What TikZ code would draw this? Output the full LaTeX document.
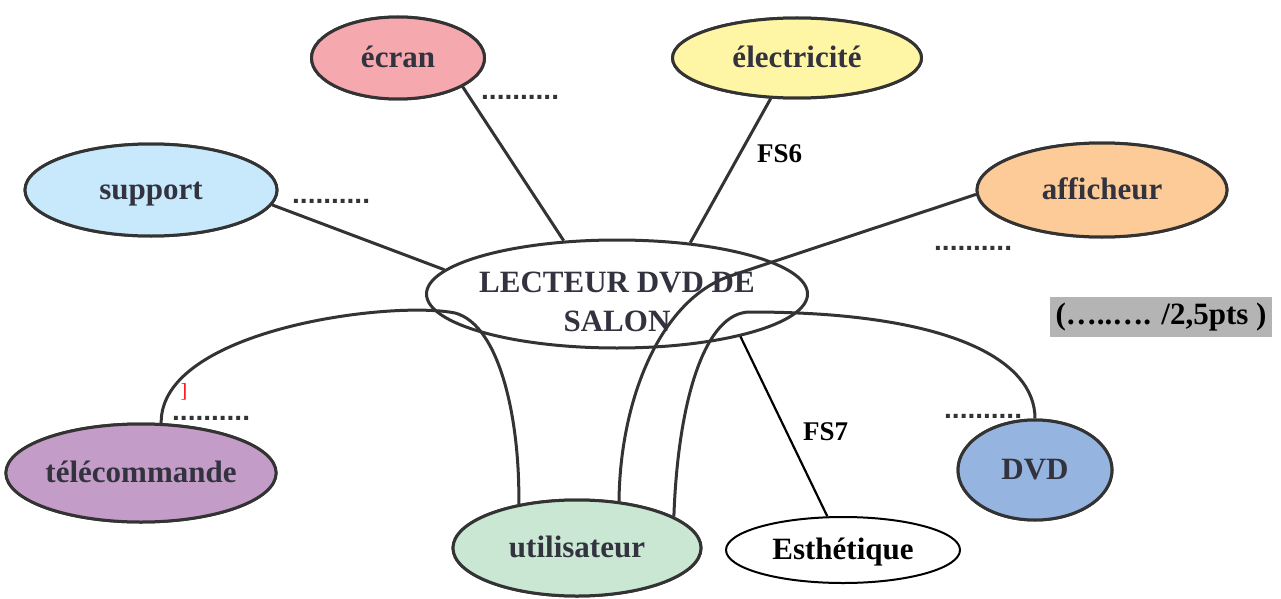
\documentclass[tikz,border=0pt]{standalone}
\usepackage{fontspec}
\setmainfont{Liberation Serif}
\newfontfamily\dotfont{Liberation Sans}
\usetikzlibrary{shapes.geometric}
\definecolor{lineg}{HTML}{333333}
\definecolor{txtg}{HTML}{33333F}
\definecolor{cecran}{HTML}{F5A8AE}
\definecolor{celec}{HTML}{FFF6A5}
\definecolor{csupport}{HTML}{C8E9FB}
\definecolor{caff}{HTML}{FDCB98}
\definecolor{ctele}{HTML}{C49CC8}
\definecolor{cdvd}{HTML}{96B4E0}
\definecolor{cutil}{HTML}{C9E7D3}
\definecolor{boxg}{HTML}{B4B4B4}
\tikzset{
  oval/.style={ellipse, draw=lineg, line width=3pt, inner sep=0pt, text=txtg,
    font=\bfseries\fontsize{31}{36}\selectfont, text height=19pt, text depth=0pt},
  link/.style={draw=lineg, line width=3pt},
  dotlabel/.style={text=lineg, font=\dotfont\bfseries\fontsize{28}{32}\selectfont, anchor=base west,
    inner sep=0pt, text height=6pt, text depth=0pt},
  fslabel/.style={text=black, font=\bfseries\fontsize{27}{32}\selectfont, anchor=base west, inner sep=0pt},
}
\begin{document}
\begin{tikzpicture}[x=1pt,y=-1pt]
\useasboundingbox (0,0) rectangle (1281,599);
% main ellipse and anchored ovals
\node[ellipse, draw=lineg, line width=3pt, minimum width=381pt, minimum height=108pt, inner sep=0pt] (main) at (617,294) {};
\path (398,58) node[oval, minimum width=173pt, minimum height=82pt] (ecran) {}
      (797,58) node[oval, minimum width=249pt, minimum height=80pt] (elec) {}
      (151,190) node[oval, minimum width=252pt, minimum height=92pt] (support) {}
      (1102,190) node[oval, minimum width=250pt, minimum height=94pt] (aff) {}
      (141,473) node[oval, minimum width=270pt, minimum height=98pt] (tele) {}
      (1035,470) node[oval, minimum width=154pt, minimum height=100pt] (dvd) {}
      (577,548) node[oval, minimum width=248pt, minimum height=96pt] (util) {}
      (843,550) node[ellipse, line width=2pt, minimum width=234pt, minimum height=66pt, inner sep=0pt] (esth) {};
% connectors
\draw[link] (ecran.-24) -- (main.135);
\draw[link] (elec.-123) -- (main.35);
\draw[link] (support.-7) -- (main.172);
\draw[link] (aff.182) -- (730,276) .. controls (660,300) and (620,400) .. (util.48);
\draw[link] (tele.68) .. controls (160,330) and (390,300) .. (455,313) .. controls (500,325) and (520,420) .. (util.143);
\draw[link] (util.18) .. controls (678,400) and (705,312) .. (750,312) .. controls (950,312) and (1035,360) .. (dvd.north);
\draw[black, line width=2.2pt] (main.-19.5) -- (esth.115);
% filled ovals drawn over the connector ends
\node[oval, fill=cecran, minimum width=173pt, minimum height=82pt] (ecranf) at (ecran) {écran};
\node[oval, fill=celec, minimum width=249pt, minimum height=80pt] (elecf) at (elec) {électricité};
\node[oval, fill=csupport, minimum width=252pt, minimum height=92pt] (supportf) at (support) {support};
\node[oval, fill=caff, minimum width=250pt, minimum height=94pt] (afff) at (aff) {afficheur};
\node[oval, fill=ctele, minimum width=270pt, minimum height=98pt] (telef) at (tele) {télécommande};
\node[oval, fill=cdvd, minimum width=154pt, minimum height=100pt] (dvdf) at (dvd) {DVD};
\node[oval, fill=cutil, minimum width=248pt, minimum height=96pt] (utilf) at (util) {utilisateur};
\node[ellipse, draw=black, line width=2pt, fill=white, minimum width=234pt, minimum height=66pt, inner sep=0pt,
  text=black, font=\bfseries\fontsize{31}{36}\selectfont, text height=19pt, text depth=0pt] (esthf) at (esth) {Esthétique};
% main text
\node[text=txtg, font=\bfseries\fontsize{31}{39}\selectfont, align=center, inner sep=0pt] (maintext) at (617,302) {LECTEUR DVD DE\\SALON};
% labels
\node[fslabel] (fs6) at (757,162) {FS6};
\node[fslabel] (fs7) at (803,440) {FS7};
\node[dotlabel] (d1) at (481,100) {..........};
\node[dotlabel] (d2) at (292,203) {..........};
\node[dotlabel] (d3) at (934,250) {..........};
\node[dotlabel] (d4) at (172,420) {..........};
\node[dotlabel] (d5) at (944,418) {..........};
\node[text=red, font=\fontsize{20}{22}\selectfont, inner sep=0pt] (mark) at (184,392) {]};
\node[fill=boxg, minimum width=222pt, minimum height=40pt, inner sep=0pt, text=black,
  font=\bfseries\fontsize{31}{36}\selectfont] (score) at (1161,317) {(…..…. /2,5pts )};
\end{tikzpicture}
\end{document}
